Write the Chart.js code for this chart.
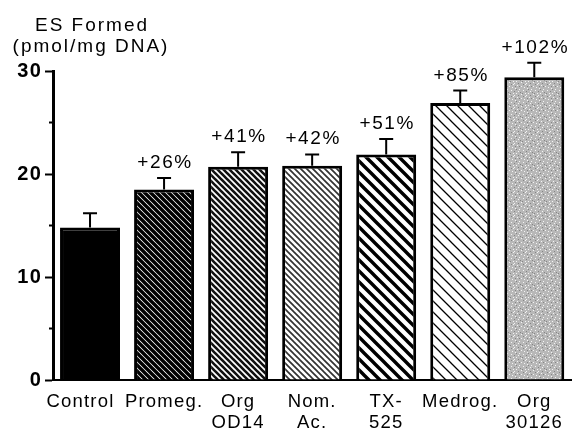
<!DOCTYPE html>
<html>
<head>
<meta charset="utf-8">
<script src="https://cdn.jsdelivr.net/npm/chart.js@4"></script>
<style>
html,body{margin:0;padding:0;background:#fff;overflow:hidden;}
#wrap{width:575px;height:434px;}
</style>
</head>
<body>
<div id="wrap"><canvas id="c" width="575" height="434"></canvas></div>
<script>
const categories = [["Control   "], ["Promeg."], ["Org", "OD14"], ["Nom.", "Ac."], ["TX-", "525"], ["Medrog."], ["Org", "30126"]];
const values = [14.8, 18.5, 20.7, 20.8, 21.9, 26.9, 29.4];
const errors = [1.4, 1.1, 1.4, 1.1, 1.5, 1.2, 1.4];
const pctLabels = ["", "+26%", "+41%", "+42%", "+51%", "+85%", "+102%"];
const yTicks = [0, 10, 20, 30];
const yTitle = ["ES Formed", "(pmol/mg DNA)"];

const canvas = document.getElementById('c');
const ctx = canvas.getContext('2d');

function hatch(p, lw, color) {
  const c = document.createElement('canvas');
  c.width = c.height = p;
  const g = c.getContext('2d');
  g.fillStyle = '#fff'; g.fillRect(0, 0, p, p);
  g.strokeStyle = color; g.lineWidth = lw; g.lineCap = 'square';
  g.beginPath();
  for (let k = -1; k <= 1; k++) { g.moveTo(k * p, 0); g.lineTo(k * p + p, p); }
  g.stroke();
  return ctx.createPattern(c, 'repeat');
}
function stipple() {
  const c = document.createElement('canvas');
  const n = 12;
  c.width = c.height = n;
  const g = c.getContext('2d');
  g.fillStyle = '#b8b8b8'; g.fillRect(0, 0, n, n);
  const white = [[1,1],[5,2],[9,0],[3,5],[7,6],[11,4],[0,9],[5,10],[9,9],[2,7],[8,3],[10,11]];
  const dark = [[3,2],[7,0],[0,5],[10,7],[6,9],[2,11],[4,8],[11,2]];
  g.fillStyle = '#f4f4f4'; white.forEach(([x,y]) => g.fillRect(x, y, 1, 1));
  g.fillStyle = '#858585'; dark.forEach(([x,y]) => g.fillRect(x, y, 1, 1));
  return ctx.createPattern(c, 'repeat');
}
const fills = [
  '#000',
  hatch(6, 3.4, '#000'),
  hatch(6, 2.6, '#111'),
  hatch(6, 1.7, '#333'),
  hatch(11, 3.4, '#000'),
  hatch(11, 1.3, '#000'),
  stipple()
];

const overlay = {
  id: 'overlay',
  beforeUpdate(chart) { chart.ctx.letterSpacing = '1.2px'; },
  beforeDraw(chart) { chart.ctx.letterSpacing = '1.2px'; },
  afterDraw(chart) {
    const c = chart.ctx;
    const meta = chart.getDatasetMeta(0);
    const y = chart.scales.y;
    c.save();
    c.strokeStyle = '#000'; c.lineWidth = 2;
    [5, 15, 25].forEach(v => {
      const py = y.getPixelForValue(v);
      c.beginPath(); c.moveTo(chart.chartArea.left - 4, py); c.lineTo(chart.chartArea.left, py); c.stroke();
    });
    c.font = '19px "Liberation Sans", Arial, sans-serif';
    c.letterSpacing = '1.6px';
    c.fillStyle = '#000';
    c.textAlign = 'center';
    c.textBaseline = 'alphabetic';
    meta.data.forEach((bar, i) => {
      const top = y.getPixelForValue(values[i]);
      const et = y.getPixelForValue(values[i] + errors[i]);
      c.lineWidth = 2;
      c.beginPath();
      c.moveTo(bar.x, top); c.lineTo(bar.x, et);
      c.moveTo(bar.x - 7, et); c.lineTo(bar.x + 7, et);
      c.stroke();
      if (pctLabels[i]) c.fillText(pctLabels[i], bar.x + 1, et - 10);
    });
    c.letterSpacing = '2px';
    c.fillText(yTitle[0], 92, 31);
    c.fillText(yTitle[1], 91, 52);
    c.restore();
  }
};

new Chart(ctx, {
  type: 'bar',
  data: {
    labels: categories,
    datasets: [{
      data: values,
      backgroundColor: fills,
      borderColor: '#000',
      borderWidth: 3,
      borderSkipped: 'bottom',
      barPercentage: 0.81,
      categoryPercentage: 1
    }]
  },
  plugins: [overlay],
  options: {
    responsive: false,
    animation: false,
    devicePixelRatio: 1,
    layout: { padding: { top: 71, right: -5, left: 0, bottom: 0 } },
    plugins: { legend: { display: false }, tooltip: { enabled: false }, title: { display: false } },
    scales: {
      x: {
        grid: { display: true, drawOnChartArea: false, drawTicks: false },
        border: { display: true, color: '#000', width: 2 },
        ticks: {
          color: '#000',
          padding: 12,
          maxRotation: 0,
          autoSkip: false,
          font: { family: '"Liberation Sans", Arial, sans-serif', size: 18.5, lineHeight: 1.12 }
        },
        afterFit(s) { s.height = 54; }
      },
      y: {
        min: 0, max: 30,
        afterBuildTicks(s) { s.ticks = yTicks.map(v => ({ value: v })); },
        grid: { display: true, drawOnChartArea: false, drawTicks: true, tickLength: 8, tickWidth: 2, tickColor: '#000' },
        border: { display: true, color: '#000', width: 3 },
        ticks: {
          color: '#000',
          padding: 3,
          font: { family: '"Liberation Sans", Arial, sans-serif', size: 20, weight: 'bold' }
        },
        afterFit(s) { s.width = 53; }
      }
    }
  }
});
</script>
</body>
</html>
